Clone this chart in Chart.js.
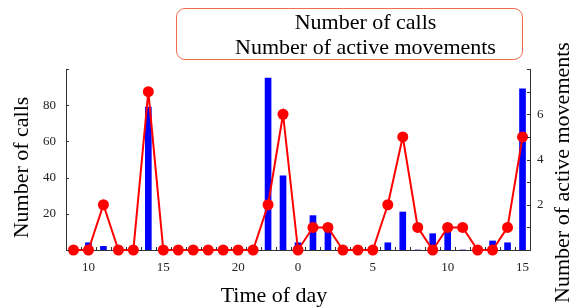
<!DOCTYPE html>
<html>
<head>
<meta charset="utf-8">
<script src="https://cdn.jsdelivr.net/npm/chart.js@4"></script>
<style>
  html, body { margin: 0; padding: 0; background: #fff; }
  #wrap { position: relative; width: 577px; height: 308px; }
  #legend {
    position: absolute; left: 176px; top: 8px; width: 347px; height: 52px;
    border: 1.5px solid #f26d50; border-radius: 9px; box-sizing: border-box;
    font-family: "Liberation Serif", serif; font-size: 22px; color: #000;
    text-align: center; padding-left: 32px; line-height: 25px; padding-top: 0px;
    white-space: nowrap;
  }
</style>
</head>
<body>
<div id="wrap">
  <canvas id="chart" width="577" height="308"></canvas>
  <div id="legend"><div>Number of calls</div><div>Number of active movements</div></div>
</div>
<script>
// Hour of day, from 9h to 15h the next day
const hours = [9, 10, 11, 12, 13, 14, 15, 16, 17, 18, 19, 20, 21, 22, 23,
               0, 1, 2, 3, 4, 5, 6, 7, 8, 9, 10, 11, 12, 13, 14, 15];

// Number of calls per hour (left axis)
const calls = [0, 4, 2, 2, 0, 79, 0, 0, 0, 0, 0, 0, 0, 95, 41,
               4, 19, 12, 0, 0, 0, 4, 21, 0, 9, 10, 0, 0, 5, 4, 89];

// Number of active movements per hour (right axis)
const movements = [0, 0, 2, 0, 0, 7, 0, 0, 0, 0, 0, 0, 0, 2, 6,
                   0, 1, 1, 0, 0, 0, 2, 5, 1, 0, 1, 1, 0, 0, 1, 5];

const xTickLabels = [5, 10, 15, 20, 0];   // hours that get a label
const callsTicks = [20, 40, 60, 80];
const movementTicks = [2, 4, 6];

const xTitle = 'Time of day';
const leftTitle = 'Number of calls';
const rightTitle = 'Number of active movements';

Chart.defaults.font.family = '"Liberation Serif", "Times New Roman", serif';
Chart.defaults.color = '#222';

const axisColor = '#333';
const titleFont = '22px "Liberation Serif", serif';

// Draws inward tick marks and the three axis titles
const axisDecor = {
    id: 'axisDecor',
    afterDraw(chart) {
        const ctx = chart.ctx;
        const area = chart.chartArea;
        const xs = chart.scales.x;
        const ys = chart.scales.y;
        const ys1 = chart.scales.y1;
        const midY = (area.top + area.bottom) / 2;
        const midX = (area.left + area.right) / 2;

        ctx.save();
        ctx.strokeStyle = axisColor;
        ctx.lineWidth = 1;
        ctx.beginPath();

        // x ticks sit between the hour slots
        const step = xs.getPixelForTick(1) - xs.getPixelForTick(0);
        for (let i = 0; i <= hours.length; i++) {
            const px = Math.round(xs.getPixelForTick(0) + (i - 0.5) * step) + 0.5;
            ctx.moveTo(px, area.bottom);
            ctx.lineTo(px, area.bottom - 3);
        }
        ys.ticks.forEach(t => {
            const py = Math.round(ys.getPixelForValue(t.value)) + 0.5;
            ctx.moveTo(area.left, py);
            ctx.lineTo(area.left + 3, py);
        });
        ys1.ticks.forEach(t => {
            const py = Math.round(ys1.getPixelForValue(t.value)) + 0.5;
            ctx.moveTo(area.right, py);
            ctx.lineTo(area.right - 3, py);
        });
        ctx.stroke();

        ctx.fillStyle = '#000';
        ctx.font = titleFont;
        ctx.textAlign = 'center';
        ctx.textBaseline = 'middle';

        // bottom title
        ctx.fillText(xTitle, midX - 24, chart.height - 12);

        // left title
        ctx.save();
        ctx.translate(22, midY + 8);
        ctx.rotate(-Math.PI / 2);
        ctx.fillText(leftTitle, 0, 0);
        ctx.restore();

        // right title reads bottom to top
        ctx.translate(chart.width - 14, midY + 13);
        ctx.rotate(-Math.PI / 2);
        ctx.fillText(rightTitle, 0, 0);
        ctx.restore();
    }
};

const ctx = document.getElementById('chart');

new Chart(ctx, {
    data: {
        labels: hours,
        datasets: [
            {
                type: 'line',
                label: rightTitle,
                data: movements,
                yAxisID: 'y1',
                borderColor: '#ff0000',
                backgroundColor: '#ff0000',
                borderWidth: 2,
                tension: 0,
                pointRadius: 5.5,
                pointBorderWidth: 0,
                clip: false,
                order: 0
            },
            {
                type: 'bar',
                label: leftTitle,
                data: calls,
                yAxisID: 'y',
                backgroundColor: '#0000ff',
                borderWidth: 0,
                barThickness: 6,
                order: 1
            }
        ]
    },
    options: {
        responsive: false,
        animation: false,
        devicePixelRatio: 1,
        layout: { padding: { top: 69, left: 0, right: 0, bottom: 0 } },
        plugins: {
            legend: { display: false },
            tooltip: { enabled: false }
        },
        scales: {
            x: {
                type: 'category',
                offset: true,
                grid: { display: false, drawTicks: false },
                border: { display: true, color: axisColor, width: 1 },
                ticks: {
                    autoSkip: false,
                    maxRotation: 0,
                    padding: 10,
                    font: { size: 13 },
                    callback: function(value, index) {
                        const h = hours[index];
                        return xTickLabels.includes(h) ? String(h) : '';
                    }
                },
                afterFit: scale => { scale.height = 58; }
            },
            y: {
                position: 'left',
                min: 0,
                max: 100,
                grid: { display: false, drawTicks: false },
                border: { display: true, color: axisColor, width: 1 },
                ticks: {
                    stepSize: 10,
                    padding: 10,
                    font: { size: 13 },
                    callback: v => callsTicks.includes(v) ? String(v) : ''
                },
                afterFit: scale => { scale.width = 66; }
            },
            y1: {
                position: 'right',
                min: 0,
                max: 8,
                grid: { display: false, drawTicks: false },
                border: { display: true, color: axisColor, width: 1 },
                ticks: {
                    stepSize: 1,
                    padding: 7,
                    font: { size: 13 },
                    callback: v => movementTicks.includes(v) ? String(v) : ''
                },
                afterFit: scale => { scale.width = 47; }
            }
        }
    },
    plugins: [axisDecor]
});
</script>
</body>
</html>
